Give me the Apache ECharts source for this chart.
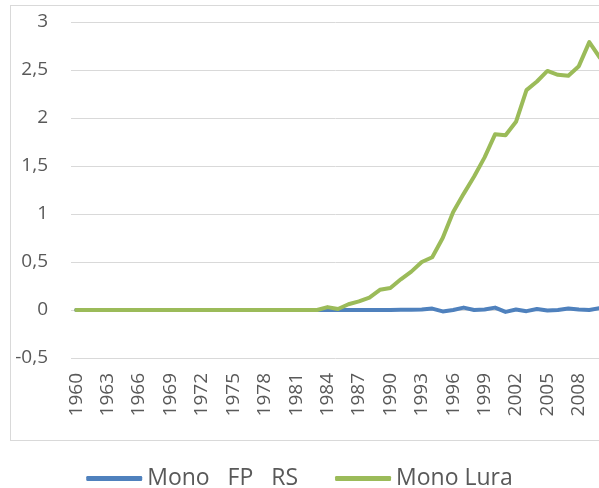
<!DOCTYPE html>
<html>
<head>
<meta charset="utf-8">
<script src="https://cdn.jsdelivr.net/npm/echarts@6/dist/echarts.min.js"></script>
<style>
  html, body { margin: 0; padding: 0; background: #fff; overflow: hidden; }
  #wrap { position: relative; width: 599px; height: 488px; overflow: hidden; }
  #frame { position: absolute; left: 10px; top: 5px; width: 700px; height: 436px; border: 1px solid #d9d9d9; box-sizing: border-box; }
  #chart { position: absolute; left: 0; top: 0; width: 599px; height: 488px; }
</style>
</head>
<body>
<div id="wrap">
  <div id="frame"></div>
  <div id="chart"></div>
</div>
<script>
// years 1960..2010
const years = []
for (let y = 1960; y <= 2010; y++) years.push(String(y))

const seriesNames = ['Mono   FP   RS', 'Mono Lura']
const seriesColors = ['#4F81BD', '#9BBB59']

// Mono FP RS: flat near zero
const monoFpRs = [
  0, 0, 0, 0, 0, 0, 0, 0, 0, 0,
  0, 0, 0, 0, 0, 0, 0, 0, 0, 0,
  0, 0, 0, 0, 0, 0, 0, 0, 0, 0,
  0, 0.003, 0.003, 0.005, 0.015, -0.015, 0, 0.025, 0, 0.005,
  0.025, -0.02, 0.005, -0.012, 0.01, -0.005, 0, 0.015, 0.005, 0,
  0.02
]

// Mono Lura
const monoLura = [
  0, 0, 0, 0, 0, 0, 0, 0, 0, 0,
  0, 0, 0, 0, 0, 0, 0, 0, 0, 0,
  0, 0, 0, 0, 0.03, 0.01, 0.06, 0.09, 0.13, 0.21,
  0.23, 0.32, 0.40, 0.50, 0.55, 0.75, 1.02, 1.21, 1.39, 1.59,
  1.83, 1.82, 1.96, 2.29, 2.38, 2.49, 2.45, 2.44, 2.54, 2.79,
  2.63
]

const yMin = -0.5, yMax = 3, yStep = 0.5
const font = 'Open Sans'
const labelColor = '#595959'

var chart = echarts.init(document.getElementById('chart'))
var option = {
  animation: false,
  textStyle: { fontFamily: font },
  grid: { left: 71, right: -6, top: 22, bottom: 130, outerBoundsMode: 'none' },
  legend: {
    data: seriesNames,
    left: 'center',
    top: 462,
    icon: 'roundRect',
    itemWidth: 56,
    itemHeight: 5,
    itemGap: 37,
    textStyle: { fontFamily: font, fontSize: 23, color: labelColor }
  },
  xAxis: {
    type: 'category',
    data: years,
    boundaryGap: true,
    axisLine: { show: false, onZero: false },
    axisTick: { show: false },
    axisLabel: { rotate: 90, interval: 2, margin: 15, fontSize: 19, color: labelColor, fontFamily: font }
  },
  yAxis: {
    type: 'value',
    min: yMin, max: yMax, interval: yStep,
    axisLine: { show: false },
    axisTick: { show: false },
    splitLine: { lineStyle: { color: '#d9d9d9', width: 1 } },
    axisLabel: {
      margin: 23, fontSize: 19, color: labelColor, fontFamily: font,
      formatter: v => String(v).replace('.', ',')
    }
  },
  series: [monoFpRs, monoLura].map((d, idx) => ({
    name: seriesNames[idx],
    type: 'line',
    data: d,
    symbol: 'none',
    color: seriesColors[idx],
    lineStyle: { width: 4, color: seriesColors[idx], cap: 'round', join: 'round' }
  }))
}
chart.setOption(option)
</script>
</body>
</html>
